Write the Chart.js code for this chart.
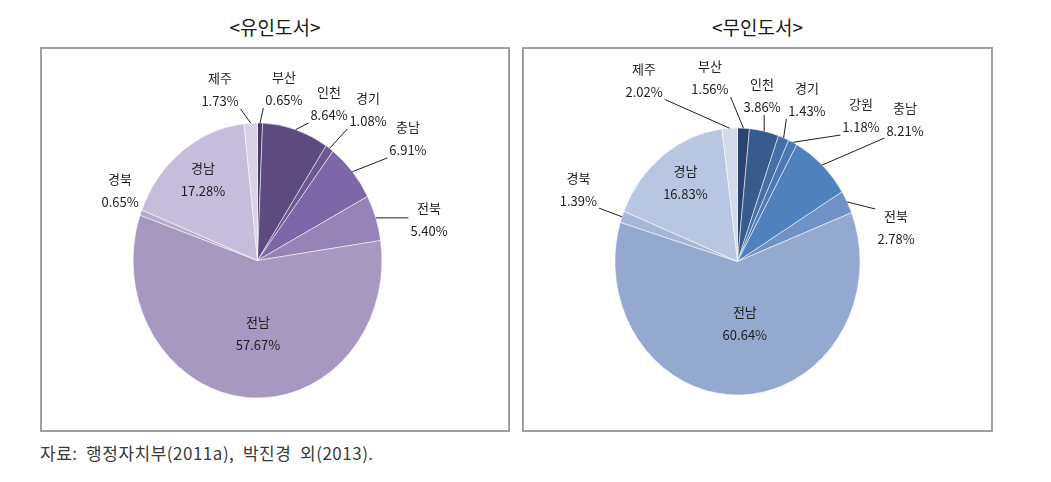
<!DOCTYPE html>
<html><head><meta charset="utf-8">
<script src="https://cdn.jsdelivr.net/npm/chart.js@4/dist/chart.umd.min.js"></script>
<style>
html,body{margin:0;padding:0;background:#fff;}
body{width:1051px;height:482px;position:relative;overflow:hidden;font-family:'Noto Sans CJK KR',sans-serif;}
.title{position:absolute;top:14px;text-align:center;font-size:19px;color:#1a1a1a;line-height:26px;}
.box{position:absolute;top:47px;border:2px solid #a0a0a0;height:381px;}
.box canvas{position:absolute;left:0;top:0;}
.note{position:absolute;left:40px;top:440px;font-size:17px;letter-spacing:0.5px;color:#3a3a3a;line-height:26px;white-space:pre;}
</style></head>
<body>
<div class="title" id="t1" style="left:40px;width:470px"></div>
<div class="title" id="t2" style="left:522px;width:471px"></div>
<div class="box" style="left:40px;width:466px"><canvas id="c1" width="466" height="381"></canvas></div>
<div class="box" style="left:522px;width:467px"><canvas id="c2" width="467" height="381"></canvas></div>
<div class="note" id="note"></div>
<script>
// ---- data ----
const titles = ['<유인도서>', '<무인도서>'];
const regionsInhabited = ['부산','인천','경기','충남','전북','전남','경북','경남','제주'];
const valuesInhabited = [0.65, 8.64, 1.08, 6.91, 5.40, 57.67, 0.65, 17.28, 1.73];
const regionsUninhabited = ['부산','인천','경기','강원','충남','전북','전남','경북','경남','제주'];
const valuesUninhabited = [1.56, 3.86, 1.43, 1.18, 8.21, 2.78, 60.64, 1.39, 16.83, 2.02];
const sourceNote = '자료:  행정자치부(2011a),  박진경  외(2013).';

// ---- styles ----
const colorsInhabited = ['#4b3a6c','#5c4a80','#6b5791','#7e67a9','#9883b9','#a698c1','#b5abcd','#c6bddb','#d8d3e5'];
const colorsUninhabited = ['#284571','#375b8c','#4370a6','#4a79b3','#4f81bd','#6f93c6','#95a9d0','#a6b6d8','#b9c6e1','#d3daea'];
const geoInhabited = {cx:215.5, cy:211.5, r:137.5, sx:0.905};
const geoUninhabited = {cx:213.5, cy:212.5, r:133.5, sx:0.918};
// label placement: [radius factor, angle shift in degrees]
const placeInhabited = [[1.265,8.5],[1.275,8.9],[1.41,3.65],[1.498,4.05],[1.41,6.0],[0.535,-5.9],[1.215,4.2],[0.731,0.5],[1.276,-10.55]];
const placeUninhabited = [[1.393,-12.1],[1.256,-3.4],[1.336,3.0],[1.484,15.95],[1.734,8.3],[1.318,15.5],[0.472,-5.1],[1.407,3.1],[0.727,1.8],[1.556,-25.7]];

document.getElementById('t1').textContent = titles[0];
document.getElementById('t2').textContent = titles[1];
document.getElementById('note').textContent = sourceNote;

Chart.defaults.font.family = "'Noto Sans CJK KR', sans-serif";

function pieChart(canvasId, labels, values, colors, geo, place) {
  const canvas = document.getElementById(canvasId);
  const W = canvas.width, H = canvas.height;
  const r = geo.r + 0.5;
  const plugin = {
    id: 'ellipseLabels',
    beforeDatasetsDraw(chart) {
      const ctx = chart.ctx, a = chart.getDatasetMeta(0).data[0];
      ctx.save();
      ctx.translate(a.x, a.y); ctx.scale(geo.sx, 1); ctx.translate(-a.x, -a.y);
    },
    afterDatasetsDraw(chart) {
      const ctx = chart.ctx;
      ctx.restore();
      const meta = chart.getDatasetMeta(0);
      ctx.save();
      ctx.font = "13px 'Noto Sans CJK KR'";
      ctx.fillStyle = '#1e1e1e'; ctx.strokeStyle = '#1e1e1e'; ctx.lineWidth = 1;
      ctx.textAlign = 'center'; ctx.textBaseline = 'middle';
      meta.data.forEach((arc, i) => {
        const p = arc.getProps(['x','y','startAngle','endAngle','outerRadius'], true);
        const mid = (p.startAngle + p.endAngle) / 2;
        const ang = mid + place[i][1] * Math.PI / 180;
        const k = place[i][0];
        const lx = p.x + geo.sx * k * p.outerRadius * Math.cos(ang);
        const ly = p.y + k * p.outerRadius * Math.sin(ang);
        const name = labels[i], pct = values[i].toFixed(2) + '%';
        const w = Math.max(ctx.measureText(name).width, ctx.measureText(pct).width);
        if (k > 1) {
          const ex = p.x + geo.sx * p.outerRadius * Math.cos(mid);
          const ey = p.y + p.outerRadius * Math.sin(mid);
          const bx0 = lx - w/2 - 2, bx1 = lx + w/2 + 2, by0 = ly - 19, by1 = ly + 19;
          const nx = Math.min(Math.max(ex, bx0), bx1), ny = Math.min(Math.max(ey, by0), by1);
          if (Math.hypot(ex - nx, ey - ny) > 8) {
            ctx.beginPath(); ctx.moveTo(nx, ny); ctx.lineTo(ex, ey); ctx.stroke();
          }
        }
        ctx.fillText(name, lx, ly - 11.5);
        ctx.fillText(pct, lx, ly + 11.5);
      });
      ctx.restore();
    }
  };
  return new Chart(canvas, {
    type: 'pie',
    data: { labels: labels, datasets: [{ data: values, backgroundColor: colors,
      borderColor: 'rgba(255,255,255,0.55)', borderWidth: 1 }] },
    options: {
      responsive: false, animation: false,
      layout: { padding: { left: geo.cx - r, right: W - geo.cx - r, top: geo.cy - r, bottom: H - geo.cy - r } },
      plugins: { legend: { display: false }, tooltip: { enabled: false } }
    },
    plugins: [plugin]
  });
}

pieChart('c1', regionsInhabited, valuesInhabited, colorsInhabited, geoInhabited, placeInhabited);
pieChart('c2', regionsUninhabited, valuesUninhabited, colorsUninhabited, geoUninhabited, placeUninhabited);
</script>
</body></html>
